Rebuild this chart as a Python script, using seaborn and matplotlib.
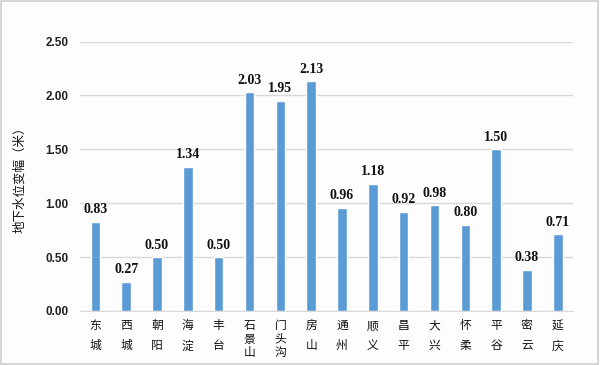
import matplotlib
matplotlib.use("Agg")
import matplotlib.pyplot as plt
import seaborn as sns
import pandas as pd
from matplotlib.patches import Rectangle

# data
districts = ["东城", "西城", "朝阳", "海淀", "丰台", "石景山", "门头沟", "房山",
             "通州", "顺义", "昌平", "大兴", "怀柔", "平谷", "密云", "延庆"]
change = [0.83, 0.27, 0.50, 1.34, 0.50, 2.03, 1.95, 2.13,
          0.96, 1.18, 0.92, 0.98, 0.80, 1.50, 0.38, 0.71]
yticks = [0.0, 0.5, 1.0, 1.5, 2.0, 2.5]

df = pd.DataFrame({"district": districts, "change": change})

sns.set_style("white")
plt.rcParams['font.family'] = ['Noto Sans CJK SC', 'DejaVu Sans']

fig = plt.figure(figsize=(6, 3.65), dpi=100, facecolor="#fdfdfd")
ax = fig.add_axes([0.1333, 0.148, 0.822, 0.738])
ax.set_facecolor("#fdfdfd")

sns.barplot(data=df, x="district", y="change", color="#5b9bd5",
            saturation=1, width=0.31, ax=ax)

ax.set_ylim(0, 2.5)
ax.set_xlim(-0.5, len(districts) - 0.5)
ax.set_yticks(yticks)
ax.set_yticklabels([f"{v:.2f}" for v in yticks], fontsize=8.5, fontweight="bold",
                   family=["Liberation Sans", "DejaVu Sans"], color="#222222")
ax.grid(axis="y", color="#d9d9d9", linewidth=1)
ax.set_axisbelow(True)
for s in ["top", "right", "left"]:
    ax.spines[s].set_visible(False)
ax.spines["bottom"].set_color("#d9d9d9")
ax.tick_params(axis="y", length=0, pad=8)
ax.tick_params(axis="x", length=0, pad=6)

# vertical stacked tick labels
ax.set_xticks(range(len(districts)))
labels = ax.set_xticklabels(["\n".join(d) for d in districts], fontsize=8.5,
                            va="top", color="#111111", fontweight="medium")
for lab, d in zip(labels, districts):
    lab.set_linespacing(1.7 if len(d) == 2 else 1.05)

ax.set_xlabel("")
ax.set_ylabel("地下水位变幅（米）", fontsize=9, labelpad=14, fontweight="medium",
              color="#111111")

for i, v in enumerate(change):
    ax.annotate(f"{v:.2f}", (i, v), xytext=(0, 4), textcoords="offset points",
                ha="center", va="bottom", fontsize=10, fontweight="bold",
                family=["Liberation Serif", "DejaVu Serif"], color="#111111")

fig.patches.append(Rectangle((0.002, 0.003), 0.995, 0.994, transform=fig.transFigure,
                             fill=False, edgecolor="#cfcfcf", linewidth=1.2))

fig.savefig("out.png", dpi=100, facecolor=fig.get_facecolor())
